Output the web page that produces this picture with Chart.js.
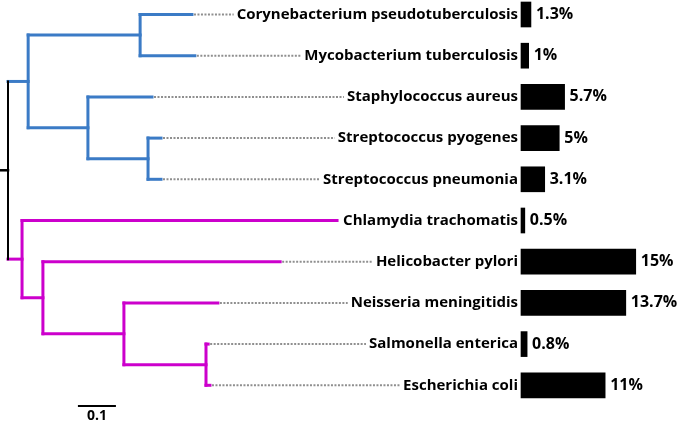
<!DOCTYPE html>
<html><head><meta charset="utf-8">
<script src="https://cdn.jsdelivr.net/npm/chart.js@4.4.1/dist/chart.umd.min.js"></script>
<style>html,body{margin:0;padding:0;background:#fff}#wrap{width:677px;height:423px;position:relative}</style>
</head><body><div id="wrap"><canvas id="c"></canvas></div>
<script>
// ---- data ----
const species = ['Corynebacterium pseudotuberculosis','Mycobacterium tuberculosis','Staphylococcus aureus','Streptococcus pyogenes','Streptococcus pneumonia','Chlamydia trachomatis','Helicobacter pylori','Neisseria meningitidis','Salmonella enterica','Escherichia coli'];
const percent = [1.3, 1, 5.7, 5, 3.1, 0.5, 15, 13.7, 0.8, 11];
// distance from root of each leaf (tree units, scale bar = 0.1)
const tipDepth = [0.511, 0.519, 0.400, 0.425, 0.425, 0.914, 0.756, 0.583, 0.556, 0.561];
// internal nodes: distance from root, children (numbers = leaves, 'nK' = internal node K)
const nodeDepth = [0, 0.056, 0.367, 0.222, 0.389, 0.039, 0.097, 0.322, 0.550];
const nodeChildren = [['n1','n5'], ['n2','n3'], [0,1], [2,'n4'], [3,4], [5,'n6'], [6,'n7'], [7,'n8'], [8,9]];
const nodeClade = ['root','blue','blue','blue','blue','pink','pink','pink','pink'];
const scaleBarLength = 0.1;
const scaleBarLabel = '0.1';

// ---- styles ----
const cladeColor = {root:'#000000', blue:'#3b7bc6', pink:'#cc00cc'};
const FONT = 'bold 15px "Open Sans"';
const PCT_FONT = 'bold 16px "Open Sans"';

function isLeaf(c){ return typeof c === 'number'; }
function nodeIdx(c){ return +String(c).slice(1); }
function yOf(c){ return isLeaf(c) ? c : nodeY(nodeIdx(c)); }
function nodeY(k){ const ys = nodeChildren[k].map(yOf); return (Math.min(...ys) + Math.max(...ys)) / 2; }
function depthOf(c){ return isLeaf(c) ? tipDepth[c] : nodeDepth[nodeIdx(c)]; }

const datasets = [];
function seg(pts, color, w){
  datasets.push({type:'scatter', data:pts, showLine:true, borderColor:color, borderWidth:w,
    pointRadius:0, borderCapStyle:'square', fill:false, clip:false});
}
nodeChildren.forEach((ch, k) => {
  const ys = ch.map(yOf);
  const d = nodeDepth[k];
  const col = cladeColor[nodeClade[k]];
  seg([{x:d, y:Math.min(...ys)}, {x:d, y:Math.max(...ys)}], col, k === 0 ? 2 : 3);
  ch.forEach(c => {
    const cc = isLeaf(c) ? col : cladeColor[nodeClade[nodeIdx(c)]];
    seg([{x:d, y:yOf(c)}, {x:depthOf(c), y:yOf(c)}], cc, 3);
  });
});
// root stub
const rootY = nodeY(0);
seg([{x:-0.022, y:rootY}, {x:0, y:rootY}], '#000', 2.5);
// scale bar
const sbStart = 0.197, sbY = 9.5;
seg([{x:sbStart, y:sbY}, {x:sbStart + scaleBarLength, y:sbY}], '#000', 2);

// bars
datasets.push({type:'bar', indexAxis:'y', xAxisID:'xb', yAxisID:'y', grouped:false,
  data: percent.map((v, i) => ({x:v, y:i})), backgroundColor:'#000', borderWidth:0,
  barThickness:25, clip:false});

const labelPlugin = {
  id:'labels',
  afterDatasetsDraw(chart){
    const ctx = chart.ctx, xs = chart.scales.x, ys = chart.scales.y, xb = chart.scales.xb;
    ctx.save();
    ctx.textBaseline = 'middle';
    species.forEach((s, i) => {
      const y = ys.getPixelForValue(i);
      const right = xb.getPixelForValue(0) - 3;
      ctx.font = FONT;
      const w = ctx.measureText(s).width;
      const tipX = xs.getPixelForValue(tipDepth[i]) + 2;
      const end = right - w - 3;
      if (end - tipX > 12) {
        ctx.save();
        ctx.strokeStyle = '#8f8f8f'; ctx.lineWidth = 2; ctx.setLineDash([2, 1.5]);
        ctx.beginPath(); ctx.moveTo(tipX, y); ctx.lineTo(end, y); ctx.stroke();
        ctx.restore();
      }
      ctx.fillStyle = '#000';
      ctx.textAlign = 'right';
      ctx.fillText(s, right, y);
      ctx.font = PCT_FONT;
      ctx.textAlign = 'left';
      ctx.fillText(percent[i] + '%', xb.getPixelForValue(percent[i]) + 5, y);
    });
    ctx.font = 'bold 14px "Open Sans"';
    ctx.textAlign = 'center';
    ctx.fillText(scaleBarLabel, xs.getPixelForValue(sbStart + scaleBarLength / 2), ys.getPixelForValue(sbY) + 10);
    ctx.restore();
  }
};

new Chart(document.getElementById('c'), {
  type:'scatter',
  data:{datasets},
  options:{
    responsive:true, maintainAspectRatio:false, animation:false, events:[],
    layout:{padding:0},
    plugins:{legend:{display:false}, tooltip:{enabled:false}},
    scales:{
      x:{type:'linear', min:-8/360, max:669/360, display:false, offset:false},
      y:{type:'linear', reverse:true, min:-14.5/41.2, max:408.5/41.2, display:false, offset:false},
      xb:{type:'linear', axis:'x', min:-521/7.65, max:156/7.65, display:false, offset:false}
    }
  },
  plugins:[labelPlugin]
});
</script></body></html>
